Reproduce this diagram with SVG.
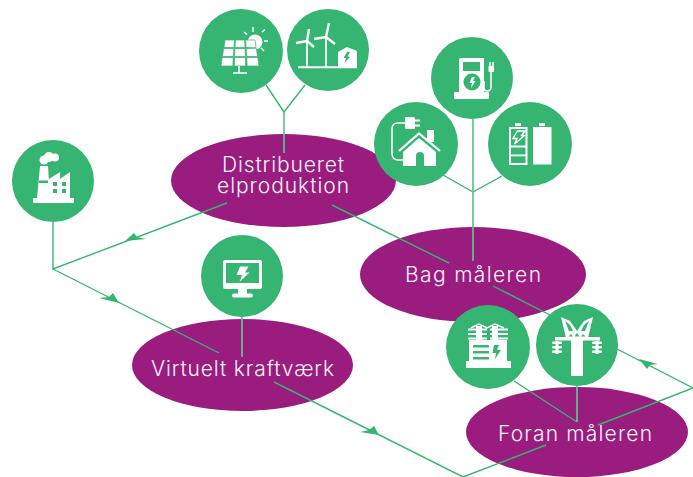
<svg xmlns="http://www.w3.org/2000/svg" width="693" height="477" viewBox="0 0 693 477">
<style>
.hub{fill:#9a1c7f}
.ico{fill:#35b571}
.w{fill:#fff}
.g{fill:#35b571}
.ws{fill:none;stroke:#fff;stroke-width:1.5}
.conn{fill:none;stroke:#35b571;stroke-width:1.4}
.vert{fill:none;stroke:#5fc48f;stroke-width:1.7}
.tip{fill:#35b571}
text{font-family:Inter,"Liberation Sans",sans-serif;font-size:21px;font-weight:300;fill:#fbf2f9}
</style>
<defs>
<g id="disc">
<rect x="-1.500" y="0" width="3" height="13" class="w"/>
<rect x="-5" y="0.500" width="10" height="2.400" rx="1" class="w"/>
<rect x="-5" y="5" width="10" height="2.400" rx="1" class="w"/>
<rect x="-5" y="9.500" width="10" height="2.400" rx="1" class="w"/>
</g>
</defs>

<g id="distribueret"><ellipse class="hub" cx="283.500" cy="180.500" rx="112.500" ry="46.500"/></g>
<g id="bag"><ellipse class="hub" cx="473" cy="274.500" rx="113" ry="47.500"/></g>
<g id="virtuelt"><ellipse class="hub" cx="242.500" cy="365" rx="110.500" ry="46"/></g>
<g id="foran"><ellipse class="hub" cx="577" cy="432" rx="111" ry="45"/></g>

<g id="connectors">
<path class="conn" d="M266 85L284 112L305 85"/>
<path class="vert" d="M284 112V153"/>
<path class="conn" d="M443 175L473 192L502 176"/>
<path class="vert" d="M473 119V261"/>
<path class="conn" d="M53 222V269L227 203"/>
<path class="conn" d="M53 269L219 353"/>
<path class="conn" d="M332 205L449 263"/>
<path class="conn" d="M493 286L550 315"/>
<path class="vert" d="M242 317V357"/>
<path class="conn" d="M274 382L463 477L546 445"/>
<path class="conn" d="M617 349L693 388L598 425"/>
<path class="conn" d="M514 381L577 422"/>
<path class="vert" d="M577 386V422"/>
<polygon class="tip" points="125,241 134,233 137,237 146,239"/>
<polygon class="tip" points="119,303 99,298 109,297 113,293"/>
<polygon class="tip" points="379,435 360,432 369,430 374,426"/>
<polygon class="tip" points="639,359 658,364 650,365 647,369"/>
</g>

<g id="solar">
<circle class="ico" cx="241" cy="51" r="42"/>
<circle class="w" cx="255" cy="42" r="7.500"/>
<path class="ws" d="M253 27V32M262 32L265 29.500M264 41H268M261 48L264 51M244 32L247 34.500"/>
<g class="w" stroke="#35b571" stroke-width="0.700">
<polygon points="225,40 234.500,40 234,47.500 224,47.500"/>
<polygon points="235.400,40 244.600,40 245,47.500 235,47.500"/>
<polygon points="245.700,40 255,40 256,47.500 246,47.500"/>
<polygon points="223.600,48.500 233.800,48.500 233.400,56.500 222.500,56.500"/>
<polygon points="234.900,48.500 245,48.500 245.400,56.500 234.600,56.500"/>
<polygon points="246.200,48.500 256.400,48.500 257.500,56.500 246.600,56.500"/>
<polygon points="222.200,57.500 233.200,57.500 232.900,66 221,66"/>
<polygon points="234.500,57.500 245.500,57.500 245.600,66 234.400,66"/>
<polygon points="246.800,57.500 257.800,57.500 259,66 247.100,66"/>
</g>
<path class="ws" d="M239 66V73M233 73H247"/>
</g>

<g id="wind">
<circle class="ico" cx="328" cy="50" r="41"/>
<path class="ws" style="stroke-width:2" d="M298 67.300H357"/>
<path class="ws" style="stroke-width:1.800" d="M307 40V67M326 36V67"/>
<path class="ws" style="stroke-width:2.400" d="M307 41L309 29M307 41L296 43M307 41L314 47M326 37L329 23M326 37L314 39M326 37L335 44"/>
<polygon class="w" points="338,52 347,47 357,51 357,68 338,68"/>
<polygon class="g" points="347,52 350,52 347.500,56.500 350,56.500 344.500,63 346,58 343.500,58"/>
</g>

<g id="charger">
<circle class="ico" cx="472" cy="78" r="41"/>
<path class="w" d="M461 58H484V92H459V60Q459 58 461 58Z"/>
<rect class="w" x="454" y="92" width="35" height="7" rx="1"/>
<rect class="g" x="463" y="62" width="17" height="9"/>
<circle class="g" cx="472" cy="82" r="8.500"/>
<polygon class="w" points="472,77 475,77 473,81 475.500,81 471,88 472,83 469.500,83"/>
<path class="ws" d="M484 81V88Q484 91 487 91Q491 91 491 87V72"/>
<rect class="w" x="488.500" y="66" width="5.500" height="6" rx="1"/>
<path class="ws" d="M490 62V66M493 62V66"/>
</g>

<g id="house">
<circle class="ico" cx="416" cy="144" r="42"/>
<rect class="w" x="427" y="130" width="7" height="12"/>
<polygon class="w" points="403,152 419,138 436,152 436,166 403,166"/>
<path fill="none" stroke="#35b571" stroke-width="1.500" d="M398 153L419 135L441 153"/>
<path fill="none" stroke="#fff" stroke-width="2.200" d="M399 151L419 133.500L440 151"/>
<path class="g" d="M416 166V156Q416 152 420 152Q424 152 424 156V166Z"/>
<rect class="w" x="405" y="117" width="10" height="12" rx="1.500"/>
<path class="ws" style="stroke-width:1.800" d="M415 120.500H420M415 125.500H420"/>
<path class="ws" d="M405 123H398Q392 123 392 129V153Q392 160 398 160H404"/>
</g>

<g id="battery">
<circle class="ico" cx="530" cy="144" r="42"/>
<rect class="w" x="515" y="123" width="6" height="3"/>
<rect class="ws" style="stroke-width:2" x="510" y="128" width="16.500" height="36"/>
<rect class="w" x="510" y="145.500" width="16" height="2"/>
<rect class="w" x="510" y="154.500" width="16" height="1.800"/>
<polygon class="ws" style="stroke-width:1.400" points="517.500,131 525,131 521.500,135.500 524.500,135.500 514.500,144 517,138.500 513,138.500"/>
<rect class="w" x="539" y="123" width="6" height="3"/>
<rect class="w" x="533" y="127" width="18.500" height="37.500"/>
</g>

<g id="factory">
<circle class="ico" cx="53" cy="181" r="41"/>
<circle class="w" cx="44" cy="160" r="4.500"/>
<circle class="w" cx="49" cy="157" r="5"/>
<circle class="w" cx="55" cy="157.500" r="4"/>
<polygon class="w" points="40,166 48,166 50,198 37,198"/>
<polygon class="w" points="49,179 60,172 60,179 70,172 70,198 49,198"/>
<rect class="w" x="33" y="198" width="41" height="5" rx="1"/>
<rect class="g" x="39" y="180.500" width="9" height="2.500"/>
<g class="g">
<rect x="53" y="182" width="4" height="4"/><rect x="62" y="182" width="4" height="4"/>
<rect x="53" y="189" width="4" height="4"/><rect x="62" y="189" width="4" height="4"/>
</g>
</g>

<g id="monitor">
<circle class="ico" cx="242" cy="276" r="41"/>
<rect class="w" x="223" y="260" width="39" height="29" rx="2"/>
<rect class="g" x="226" y="263" width="33" height="20"/>
<polygon class="w" points="240,266.500 248.500,266.500 245,272.500 249.500,272.500 239.500,282 242,275 236.500,275"/>
<rect class="w" x="238" y="289" width="9" height="5"/>
<rect class="w" x="232" y="293.500" width="21" height="4" rx="2"/>
</g>

<g id="transformer">
<circle class="ico" cx="488" cy="347" r="42"/>
<rect class="w" x="469" y="340" width="38" height="21"/>
<rect class="w" x="466" y="361" width="45" height="7"/>
<g class="g">
<rect x="473" y="345" width="16" height="2.500"/><rect x="473" y="351" width="16" height="2.500"/><rect x="473" y="357" width="16" height="2.500"/>
<polygon points="494,345 499,345 497,350 501,350 495,359 496,353 492.500,353"/>
</g>
<path class="ws" d="M471 328L479 324L487 328L495 324L504 328"/>
<rect class="w" x="476" y="326" width="6" height="14"/>
<rect class="w" x="492" y="326" width="6" height="14"/>
<g class="w">
<rect x="468" y="328.500" width="19" height="2"/><rect x="490" y="328.500" width="18" height="2"/>
<rect x="468" y="333" width="19" height="2"/><rect x="490" y="333" width="18" height="2"/>
<rect x="468" y="337.500" width="19" height="2"/><rect x="490" y="337.500" width="18" height="2"/>
</g>
</g>

<g id="tower">
<circle class="ico" cx="577" cy="345" r="41"/>
<rect class="w" x="571" y="338" width="12" height="38"/>
<rect class="w" x="555" y="337" width="45" height="3.500"/>
<polygon class="w" points="561,317 570,321 577,331 584,321 593,317 588,338 566,338"/>
<g class="g">
<polygon points="565,321 570,325 573,331 569,331"/>
<polygon points="589,321 584,325 581,331 585,331"/>
<polygon points="577,333 579.500,336.500 574.500,336.500"/>
<polygon points="571,334 573,336.500 568.500,336.500"/>
<polygon points="583,334 585.500,336.500 581,336.500"/>
</g>
<use href="#disc" x="557" y="341"/>
<use href="#disc" x="597" y="341"/>
</g>

<text x="222" y="172" textLength="122">Distribueret</text>
<text x="217" y="193" textLength="132">elproduktion</text>
<text x="405" y="282" textLength="136">Bag måleren</text>
<text x="151" y="376" textLength="183">Virtuelt kraftværk</text>
<text x="498" y="441" textLength="154">Foran måleren</text>
</svg>
